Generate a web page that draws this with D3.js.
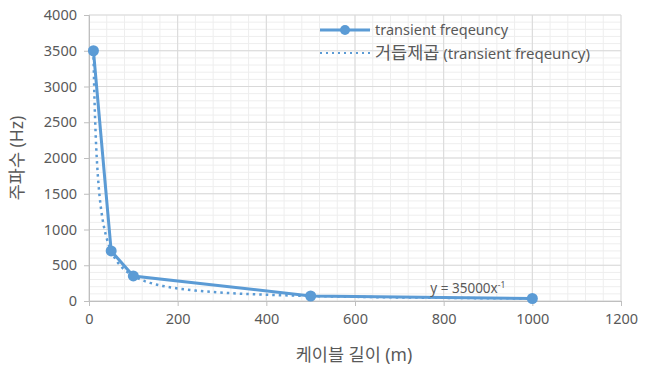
<!DOCTYPE html>
<html>
<head>
<meta charset="utf-8">
<script src="https://cdn.jsdelivr.net/npm/d3@7"></script>
<style>
  body { margin: 0; background: #fff; }
  text { font-family: "Noto Sans", "Noto Sans CJK KR", sans-serif; fill: #595959; }
</style>
</head>
<body>
<div id="chart"></div>
<script>
// data
var cableLength = [10, 50, 100, 500, 1000];
var frequency = [3500, 700, 350, 70, 35];
var xTicks = [0, 200, 400, 600, 800, 1000, 1200];
var yTicks = [0, 500, 1000, 1500, 2000, 2500, 3000, 3500, 4000];
var seriesName = "transient freqeuncy";
var trendName = "거듭제곱 (transient freqeuncy)";

var svgWidth = 653;
var svgHeight = 370;
var margin = { top: 15, right: 32, bottom: 69, left: 89 };
var width = svgWidth - margin.left - margin.right;
var height = svgHeight - margin.top - margin.bottom;
var blue = "#5b9bd5";

var svg = d3.select("#chart")
    .append("svg")
    .attr("width", svgWidth)
    .attr("height", svgHeight);

var chartGroup = svg.append("g")
    .attr("transform", `translate(${margin.left}, ${margin.top})`);

var xScale = d3.scaleLinear().domain([0, 1200]).range([0, width]);
var yScale = d3.scaleLinear().domain([0, 4000]).range([height, 0]);

// minor grid
chartGroup.append("g").selectAll("line")
    .data(d3.range(0, 1201, 40))
    .enter().append("line")
    .attr("x1", d => xScale(d)).attr("x2", d => xScale(d))
    .attr("y1", 0).attr("y2", height)
    .attr("stroke", "#eeeeee");
chartGroup.append("g").selectAll("line")
    .data(d3.range(0, 4001, 100))
    .enter().append("line")
    .attr("y1", d => yScale(d)).attr("y2", d => yScale(d))
    .attr("x1", 0).attr("x2", width)
    .attr("stroke", "#eeeeee");

// major grid
chartGroup.append("g").selectAll("line")
    .data(xTicks)
    .enter().append("line")
    .attr("x1", d => xScale(d)).attr("x2", d => xScale(d))
    .attr("y1", 0).attr("y2", height)
    .attr("stroke", "#d9d9d9");
chartGroup.append("g").selectAll("line")
    .data(yTicks)
    .enter().append("line")
    .attr("y1", d => yScale(d)).attr("y2", d => yScale(d))
    .attr("x1", 0).attr("x2", width)
    .attr("stroke", "#d9d9d9");

// axes
var bottomAxis = d3.axisBottom(xScale).tickValues(xTicks).tickFormat(d3.format("d")).tickSize(5).tickPadding(8);
var leftAxis = d3.axisLeft(yScale).tickValues(yTicks).tickFormat(d3.format("d")).tickSize(5).tickPadding(7);

var xAxis = chartGroup.append("g")
    .attr("transform", `translate(0, ${height})`)
    .call(bottomAxis);
var yAxis = chartGroup.append("g")
    .call(leftAxis);

[xAxis, yAxis].forEach(function(ax) {
    ax.select(".domain").attr("stroke", "#bfbfbf");
    ax.selectAll(".tick line").attr("stroke", "#bfbfbf");
    ax.selectAll("text").style("font-size", "14.5px").attr("fill", "#595959");
});

// power trendline fitted from the data (least squares on logs)
var lx = cableLength.map(Math.log);
var ly = frequency.map(Math.log);
var mx = d3.mean(lx), my = d3.mean(ly);
var b = d3.sum(lx, (v, i) => (v - mx) * (ly[i] - my)) / d3.sum(lx, v => (v - mx) * (v - mx));
var a = Math.exp(my - b * mx);
var trendX = d3.range(0, 101).map(i => 10 * Math.pow(100, i / 100));

var line = d3.line()
    .x(d => xScale(d[0]))
    .y(d => yScale(d[1]));

chartGroup.append("path")
    .datum(trendX.map(x => [x, a * Math.pow(x, b)]))
    .attr("d", line)
    .attr("fill", "none")
    .attr("stroke", blue)
    .attr("stroke-width", 2.5)
    .attr("stroke-dasharray", "2.5,4");

var points = cableLength.map((x, i) => [x, frequency[i]]);

chartGroup.append("path")
    .datum(points)
    .attr("d", line)
    .attr("fill", "none")
    .attr("stroke", blue)
    .attr("stroke-width", 3);

chartGroup.selectAll("circle.pt")
    .data(points)
    .enter()
    .append("circle")
    .attr("class", "pt")
    .attr("cx", d => xScale(d[0]))
    .attr("cy", d => yScale(d[1]))
    .attr("r", 5.5)
    .attr("fill", blue);

// trendline equation
var eq = chartGroup.append("text")
    .attr("x", xScale(770))
    .attr("y", yScale(35) - 5)
    .style("font-size", "13.5px")
    .attr("fill", "#404040");
eq.append("tspan").text("y = " + Math.round(a) + "x");
eq.append("tspan").attr("dy", -5).style("font-size", "8.5px").text(Math.round(b));

// legend
var legend = svg.append("g").attr("transform", "translate(320, 30)");
legend.append("line")
    .attr("x1", 0).attr("x2", 50).attr("y1", 0).attr("y2", 0)
    .attr("stroke", blue).attr("stroke-width", 3);
legend.append("circle").attr("cx", 25).attr("cy", 0).attr("r", 5).attr("fill", blue);
legend.append("text").attr("x", 55).attr("y", 5)
    .style("font-size", "14.5px").attr("fill", "#404040").text(seriesName);
legend.append("line")
    .attr("x1", 0).attr("x2", 50).attr("y1", 23).attr("y2", 23)
    .attr("stroke", blue).attr("stroke-width", 2)
    .attr("stroke-dasharray", "2,4");
legend.append("text").attr("x", 55).attr("y", 29)
    .attr("fill", "#404040")
    .selectAll("tspan")
    .data(trendName.split(/(?=\s\()/))
    .enter().append("tspan")
    .style("font-size", (d, i) => i === 0 ? "17.5px" : "15px")
    .text(d => d);

// axis titles
svg.append("text")
    .attr("x", margin.left + width / 2 - 1)
    .attr("y", 361)
    .attr("text-anchor", "middle")
    .style("font-size", "17.5px")
    .text("케이블 길이 (m)");

svg.append("text")
    .attr("transform", `translate(23, ${margin.top + height / 2}) rotate(-90)`)
    .attr("text-anchor", "middle")
    .style("font-size", "17.5px")
    .text("주파수 (Hz)");
</script>
</body>
</html>
